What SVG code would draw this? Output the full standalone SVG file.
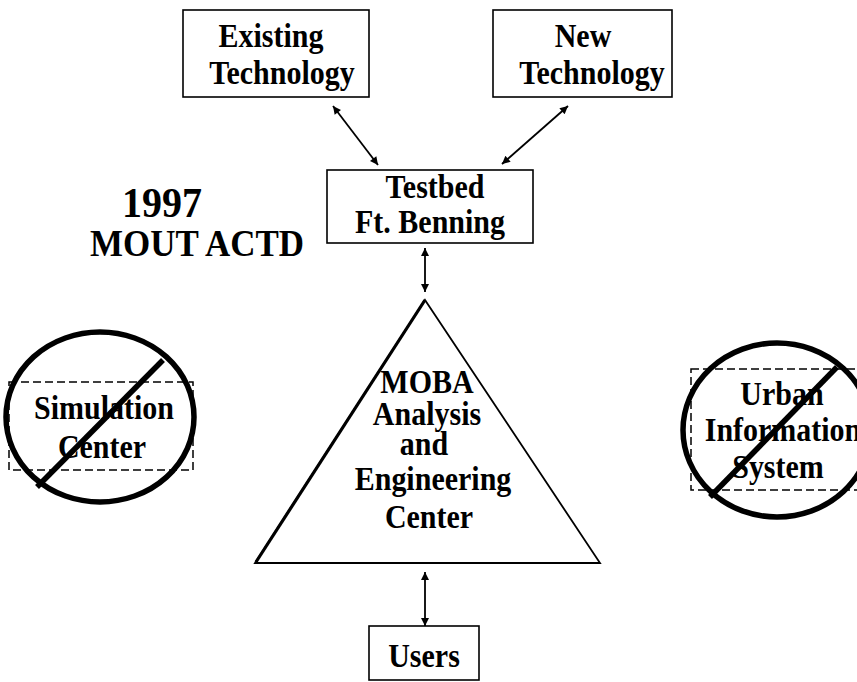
<svg xmlns="http://www.w3.org/2000/svg" width="857" height="682" viewBox="0 0 857 682">
<style>
.t{font-family:"Liberation Serif","Times New Roman",serif;font-weight:bold;font-size:30px;text-anchor:middle;fill:#000}
.box{fill:#fff;stroke:#000;stroke-width:1.6}
.dash{fill:none;stroke:#000;stroke-width:1.5;stroke-dasharray:8 4}
.no{fill:none;stroke:#000;stroke-width:5.5}
.con{stroke:#000;stroke-width:1.8;fill:none;marker-start:url(#ah);marker-end:url(#ah)}
</style>
<defs>
<marker id="ah" viewBox="0 0 10 10" refX="10" refY="5" markerWidth="10" markerHeight="8" markerUnits="userSpaceOnUse" orient="auto-start-reverse">
<path d="M0,0 L10,5 L0,10 z" fill="#000"/>
</marker>
</defs>
<rect width="857" height="682" fill="#fff"/>

<g id="title">
<text class="t" style="font-size:40px" transform="translate(162,217) scale(1,1.05)">1997</text>
<text class="t" style="font-size:35px" transform="translate(197,256) scale(1,1.1)">MOUT ACTD</text>
</g>

<g id="existing">
<rect class="box" x="183" y="10" width="186" height="87"/>
<text class="t" transform="translate(271,47) scale(1,1.1)">Existing</text>
<text class="t" transform="translate(282,84) scale(1,1.1)">Technology</text>
</g>

<g id="new">
<rect class="box" x="493" y="10" width="179" height="87"/>
<text class="t" transform="translate(583,47) scale(1,1.1)">New</text>
<text class="t" transform="translate(592,84) scale(1,1.1)">Technology</text>
</g>

<g id="testbed">
<rect class="box" x="327" y="170" width="206" height="73"/>
<text class="t" transform="translate(435,198) scale(1,1.1)">Testbed</text>
<text class="t" transform="translate(430,233) scale(1,1.1)">Ft. Benning</text>
</g>

<g id="moba">
<polygon points="425,300 600,563 255,563" fill="#fff" stroke="#000" stroke-width="1.8"/>
<line x1="425" y1="300" x2="256" y2="562" stroke="#000" stroke-width="3.2"/>
<text class="t" transform="translate(427,393) scale(1,1.1)">MOBA</text>
<text class="t" transform="translate(427,425) scale(1,1.1)">Analysis</text>
<text class="t" transform="translate(424,455) scale(1,1.1)">and</text>
<text class="t" transform="translate(433,490) scale(1,1.1)">Engineering</text>
<text class="t" transform="translate(429,528) scale(1,1.1)">Center</text>
</g>

<g id="users">
<rect class="box" x="369" y="626" width="110" height="54"/>
<text class="t" transform="translate(424,667) scale(1,1.1)">Users</text>
</g>

<g id="simulation">
<rect class="dash" x="9" y="382" width="184" height="88"/>
<text class="t" transform="translate(104,419) scale(1,1.1)">Simulation</text>
<text class="t" transform="translate(102,458) scale(1,1.1)">Center</text>
<ellipse class="no" cx="100" cy="417" rx="94" ry="85"/>
<line class="no" x1="37" y1="487" x2="163" y2="360"/>
</g>

<g id="urban">
<rect class="dash" x="691" y="369" width="175" height="121"/>
<text class="t" transform="translate(782,405) scale(1,1.1)">Urban</text>
<text class="t" transform="translate(783,441) scale(1,1.1)">Information</text>
<text class="t" transform="translate(778,478) scale(1,1.1)">System</text>
<ellipse class="no" cx="777" cy="430" rx="94" ry="87"/>
<line class="no" x1="710" y1="497" x2="837" y2="367"/>
</g>

<g id="connectors">
<line class="con" x1="333" y1="106" x2="378" y2="165"/>
<line class="con" x1="568" y1="106" x2="502" y2="164"/>
<line class="con" x1="425" y1="248" x2="425" y2="292"/>
<line class="con" x1="425" y1="572" x2="425" y2="626"/>
</g>
</svg>
